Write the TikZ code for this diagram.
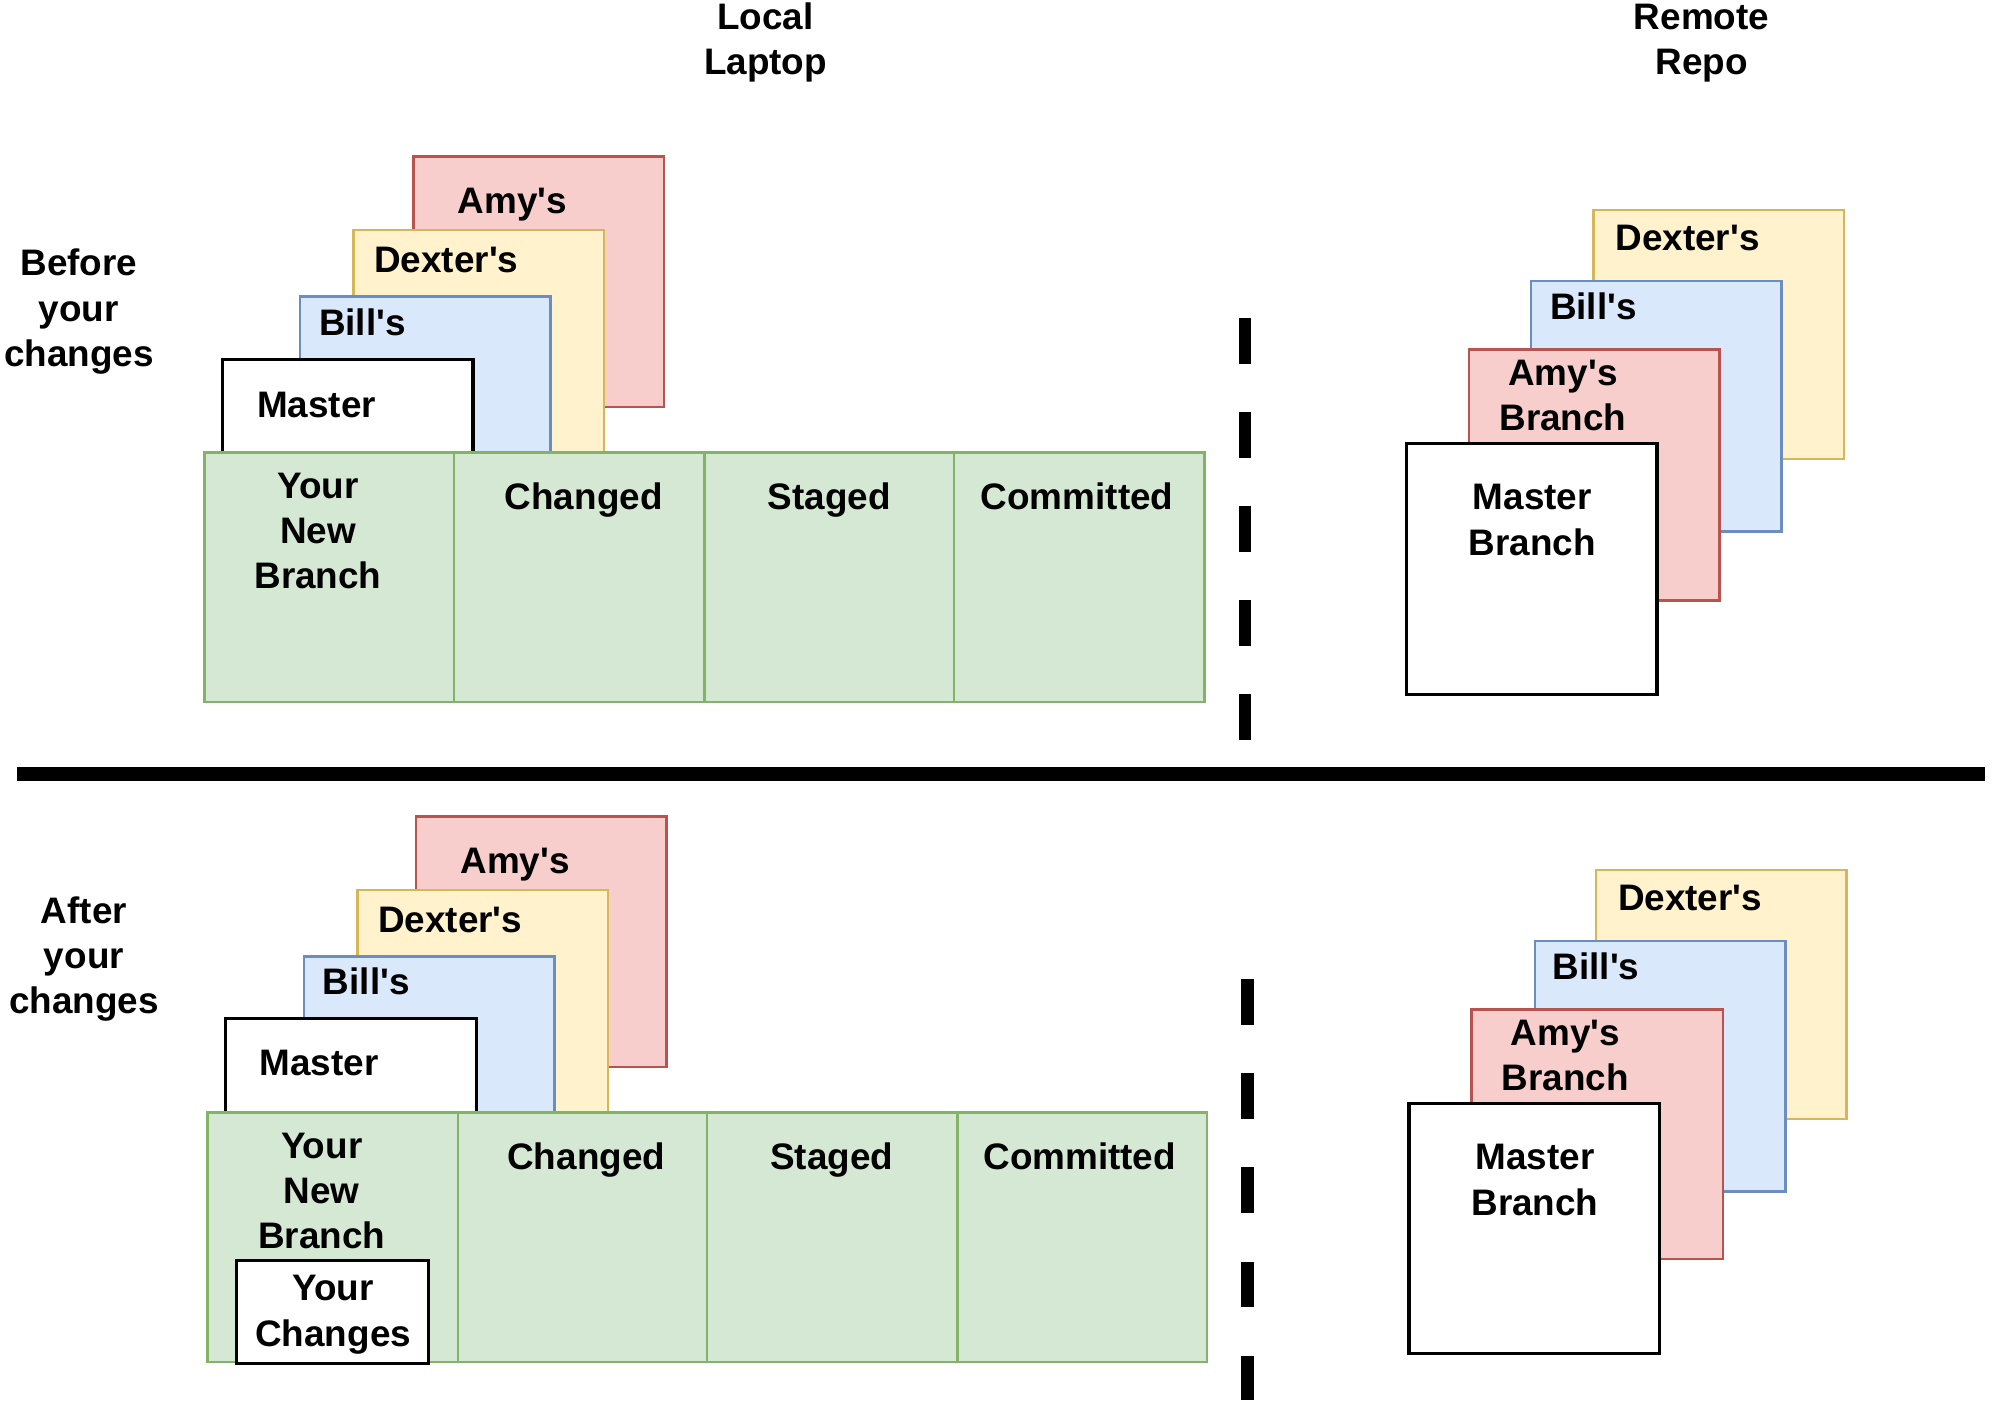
\documentclass[tikz,border=0pt]{standalone}
\usepackage{fontspec}
\setmainfont{Liberation Sans}
\definecolor{amyfill}{HTML}{F8CECC}
\definecolor{amyline}{HTML}{B85450}
\definecolor{dexfill}{HTML}{FFF2CC}
\definecolor{dexline}{HTML}{D6B656}
\definecolor{billfill}{HTML}{DAE8FC}
\definecolor{billline}{HTML}{6C8EBF}
\definecolor{cellfill}{HTML}{D5E8D4}
\definecolor{cellline}{HTML}{82B366}
\newcommand{\apos}{\textquotesingle}
\tikzset{
  lbl/.style={font=\bfseries\fontsize{29}{35.5}\selectfont, align=center, inner sep=0pt, anchor=base},
  amybox/.style={fill=amyfill, draw=amyline, line width=2pt},
  dexbox/.style={fill=dexfill, draw=dexline, line width=2pt},
  billbox/.style={fill=billfill, draw=billline, line width=2pt},
  mastbox/.style={fill=white, draw=black, line width=2.5pt},
  cellbox/.style={fill=cellfill, draw=cellline, line width=2pt}
}
\begin{document}
\begin{tikzpicture}[x=1pt,y=-1pt]
\useasboundingbox (0,0) rectangle (1568,1101);

% Headings (base = last line)
\node[lbl] (local) at (602,58.5) {Local\\Laptop};
\node[lbl] (remote) at (1338,58.5) {Remote\\Repo};

% Before: local branches
\node[lbl] (before) at (62,288) {Before\\your\\changes};
\draw[amybox] (325,123) rectangle (522,320);
\node[lbl] (amyA) at (403,168) {Amy\apos s};
\draw[dexbox] (278,181) rectangle (475,378);
\node[lbl] (dexA) at (351,214) {Dexter\apos s};
\draw[billbox] (236,233) rectangle (433,430);
\node[lbl] (billA) at (285,264) {Bill\apos s};
\draw[mastbox] (175,283) rectangle (372,480);
\node[lbl] (mastA) at (249,328) {Master};
% Before: working areas
\draw[cellbox] (161,356) rectangle (357,552);
\draw[cellbox] (357,356) rectangle (554,552);
\draw[cellbox] (554,356) rectangle (750,552);
\draw[cellbox] (750,356) rectangle (947,552);
\node[lbl] (newA) at (250,463) {Your\\New\\Branch};
\node[lbl] (chgA) at (459,401) {Changed};
\node[lbl] (stgA) at (652,401) {Staged};
\node[lbl] (comA) at (847,401) {Committed};
% Before: divider
\draw[line width=10pt, dash pattern=on 36pt off 38pt] (979,250) -- (979,582);
% Before: remote branches
\draw[dexbox] (1253,165) rectangle (1450,361);
\node[lbl] (dexB) at (1327,197) {Dexter\apos s};
\draw[billbox] (1204,221) rectangle (1401,418);
\node[lbl] (billB) at (1253,251) {Bill\apos s};
\draw[amybox] (1155,275) rectangle (1352,472);
\node[lbl] (amyB) at (1229,338.5) {Amy\apos s\\Branch};
\draw[mastbox] (1106,349) rectangle (1303,546);
\node[lbl] (mastB) at (1205,436.5) {Master\\Branch};

% Separator
\draw[line width=11pt] (13,609) -- (1561,609);

% After: local branches
\node[lbl] (after) at (66,797) {After\\your\\changes};
\draw[amybox] (327,642) rectangle (524,839);
\node[lbl] (amyC) at (405,687) {Amy\apos s};
\draw[dexbox] (281,700) rectangle (478,897);
\node[lbl] (dexC) at (354,733) {Dexter\apos s};
\draw[billbox] (239,752) rectangle (436,949);
\node[lbl] (billC) at (288,782) {Bill\apos s};
\draw[mastbox] (177,801) rectangle (375,998);
\node[lbl] (mastC) at (251,846) {Master};
% After: working areas
\draw[cellbox] (163,875) rectangle (360,1071);
\draw[cellbox] (360,875) rectangle (556,1071);
\draw[cellbox] (556,875) rectangle (753,1071);
\draw[cellbox] (753,875) rectangle (949,1071);
\node[lbl] (newC) at (253,982) {Your\\New\\Branch};
\node[lbl] (chgC) at (461,920) {Changed};
\node[lbl] (stgC) at (654,920) {Staged};
\node[lbl] (comC) at (849,920) {Committed};
\draw[mastbox] (186,991) rectangle (337,1072);
\node[lbl] (yours) at (262,1058.5) {Your\\Changes};
% After: divider
\draw[line width=10pt, dash pattern=on 36pt off 38pt] (981,770) -- (981,1101);
% After: remote branches
\draw[dexbox] (1255,684) rectangle (1452,880);
\node[lbl] (dexD) at (1329,716) {Dexter\apos s};
\draw[billbox] (1207,740) rectangle (1404,937);
\node[lbl] (billD) at (1255,770) {Bill\apos s};
\draw[amybox] (1157,794) rectangle (1355,990);
\node[lbl] (amyD) at (1231,857.5) {Amy\apos s\\Branch};
\draw[mastbox] (1108,868) rectangle (1305,1064);
\node[lbl] (mastD) at (1207,955.5) {Master\\Branch};

\end{tikzpicture}
\end{document}
